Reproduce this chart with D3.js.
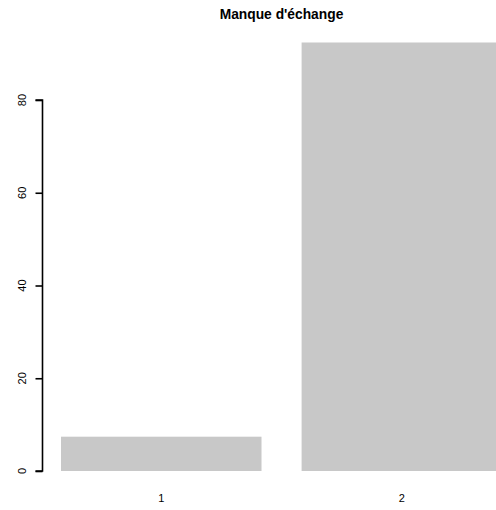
<!DOCTYPE html>
<html><head><meta charset="utf-8">
<script src="https://cdn.jsdelivr.net/npm/d3@7"></script>
<style>html,body{margin:0;padding:0;background:#fff;overflow:hidden}</style>
</head><body>
<svg id="c" width="496" height="510"></svg>
<script>
const categories = ["1", "2"];
const values = [7.4, 92.4];
const yTicks = [0, 20, 40, 60, 80];
const title = "Manque d'échange";

const svg = d3.select("#c");
const y = d3.scaleLinear().domain([0, 80]).range([471, 100]);
// R barplot coordinates: bar i spans [0.2 + 1.2*i, 1.2 + 1.2*i]
const x = d3.scaleLinear().domain([0.2, 1.2]).range([61, 261.5]);

svg.append("g").selectAll("rect").data(values).join("rect")
  .attr("x", (d, i) => x(0.2 + 1.2 * i))
  .attr("width", (d, i) => x(1.2 + 1.2 * i) - x(0.2 + 1.2 * i))
  .attr("y", d => y(d))
  .attr("height", d => y(0) - y(d))
  .attr("fill", "#c8c8c8");

// y axis
const ax = svg.append("g").attr("transform", "translate(42.5,0)")
  .call(d3.axisLeft(y).tickValues(yTicks).tickSize(7).tickFormat(""));
ax.select(".domain").attr("d", `M-7,${y(80)}H0V${y(0)}H-7`).attr("stroke", "#000").attr("stroke-width", 1.6);
ax.selectAll(".tick line").attr("stroke", "#000").attr("stroke-width", 1.6);

svg.append("g").selectAll("text").data(yTicks).join("text")
  .attr("transform", d => `translate(26,${y(d)}) rotate(-90)`)
  .attr("text-anchor", "middle")
  .attr("font-family", "Liberation Sans, Arial, sans-serif")
  .attr("font-size", 11)
  .attr("fill", "#000")
  .text(d => d);

// category labels
svg.append("g").selectAll("text").data(categories).join("text")
  .attr("x", (d, i) => x(0.7 + 1.2 * i))
  .attr("y", 501.5)
  .attr("text-anchor", "middle")
  .attr("font-family", "Liberation Sans, Arial, sans-serif")
  .attr("font-size", 11)
  .attr("fill", "#000")
  .text(d => d);

svg.append("text")
  .attr("x", 281.5).attr("y", 19)
  .attr("text-anchor", "middle")
  .attr("font-family", "Liberation Sans, Arial, sans-serif")
  .attr("font-size", 13.8)
  .attr("font-weight", "bold")
  .attr("fill", "#000")
  .text(title);
</script>
</body></html>
